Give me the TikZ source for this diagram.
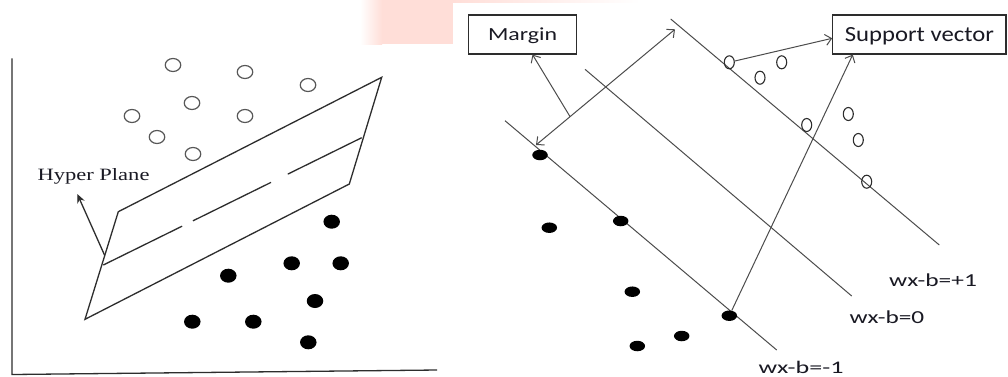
\documentclass[tikz,border=0pt]{standalone}
\usepackage{fontspec}
\usepackage{graphicx}
\setmainfont{Liberation Serif}
\newfontfamily\calib{Carlito}
\usetikzlibrary{shapes.geometric,arrows.meta,calc}
\newcommand\fittext[3]{\resizebox{#1pt}{#2pt}{#3}}
\definecolor{wmpink}{RGB}{255,222,216}
\definecolor{lnc}{RGB}{45,45,45}
\definecolor{txc}{RGB}{25,25,35}
\begin{document}
\begin{tikzpicture}[x=1pt,y=-1pt,
  lline/.style={draw=lnc,line width=1.3pt},
  rline/.style={draw=lnc!85,line width=1pt},
  lopen/.style={ellipse,draw=lnc!80,line width=1.2pt,minimum width=15.5pt,minimum height=13pt,inner sep=0pt},
  lfill/.style={ellipse,fill=black,minimum width=16.5pt,minimum height=14pt,inner sep=0pt},
  ropen/.style={ellipse,draw=lnc,line width=1.1pt,minimum width=10pt,minimum height=13pt,inner sep=0pt},
  rfill/.style={ellipse,fill=black,minimum width=15.5pt,minimum height=10.5pt,inner sep=0pt},
  lbl/.style={inner sep=0pt,anchor=base west,text=txc},
  boxst/.style={draw=lnc,line width=1.2pt,inner sep=0pt,text=txc,text depth=0pt},
  rarrow/.style={rline,-{Straight Barb[length=6pt,width=11pt]}},
  darrow/.style={rline,{Straight Barb[length=6pt,width=11pt]}-{Straight Barb[length=6pt,width=11pt]}},
  harrow/.style={lline,-{Stealth[length=9pt,width=8pt]}}]
\useasboundingbox (0,0) rectangle (1008,376);
\fill[white] (0,0) rectangle (1008,376);
% watermark remnant
\fill[wmpink] (381.7,0) rectangle (453,44.3);
\shade[left color=white,right color=wmpink] (360,0) rectangle (382,44.3);
\shade[left color=wmpink,right color=white] (453,0) rectangle (640,2.2);

% ---------- left panel ----------
\draw[lline] (12,58.3) -- (12,374.5) -- (437,370);
\coordinate (TL) at (118.3,211.7);
\coordinate (TR) at (381.7,77.3);
\coordinate (BR) at (349.3,184);
\coordinate (BL) at (85,319.3);
\draw[lline] (BL) -- (TL) -- (TR) -- (BR) -- cycle;
\coordinate (ML) at (103.3,265);
\coordinate (MR) at (361.7,137.7);
\draw[lline] (ML) -- ($(ML)!0.305!(MR)$);
\draw[lline] ($(ML)!0.347!(MR)$) -- ($(ML)!0.649!(MR)$);
\draw[lline] ($(ML)!0.714!(MR)$) -- (MR);
\coordinate (HA) at (104.5,255);
\coordinate (HT) at (77.3,194);
\draw[harrow] (HA) -- (HT);
\node[lbl,font=\rmfamily] (hp) at (37.3,180) {\fittext{112}{12}{Hyper Plane}};

\foreach \n/\x/\y in {o1/173/65,o2/245/72,o3/308/85,o4/192/103,o5/132/116,o6/245/116,o7/157/137,o8/193/154}
  \node[lopen] (\n) at (\x,\y) {};
\foreach \n/\x/\y in {f1/331.7/221.7,f2/291.7/263.3,f3/340.7/263.3,f4/228.3/275.7,f5/315/301,f6/192.3/321.7,f7/253.3/321.7,f8/308.3/342.3}
  \node[lfill] (\n) at (\x,\y) {};

% ---------- right panel ----------
\draw[rline] (505,120.7) -- (776.7,350);
\draw[rline] (585,69.3) -- (851.7,296);
\draw[rline] (670.7,19) -- (939.3,245);

\node[boxst,minimum width=108.4pt,minimum height=39pt] (mbox) at (522.5,34.5) {\calib\fittext{69}{12.7}{Margin}};
\node[boxst,minimum width=173.3pt,minimum height=39pt] (svbox) at (919.4,34.5) {\calib\fittext{149}{14}{Support vector}};

\foreach \n/\x/\y in {s1/729.3/62.3,s2/760/77.7,s3/781.7/62.3,s4/806.7/125,s5/848.3/114,s6/858.3/140,s7/866.7/181.7}
  \node[ropen] (\n) at (\x,\y) {};
\foreach \n/\x/\y in {d1/540/155,d2/549.3/227.7,d3/620.7/221,d4/632.3/291.7,d5/729.3/315.7,d6/681.7/336,d7/637.3/346}
  \node[rfill] (\n) at (\x,\y) {};

\coordinate (ma) at (536,145);
\coordinate (mb) at (675,29.3);
\draw[darrow] (ma) -- (mb);
\coordinate (mm) at ($(ma)!0.245!(mb)$);
\draw[rarrow] (mm) -- ([xshift=10pt]mbox.south);
\draw[rarrow] (s1) -- ([yshift=-3.8pt]svbox.west);
\draw[rarrow] (d5) -- ([xshift=20.6pt]svbox.south west);

\node[lbl,font=\calib] (l1) at (889,286) {\fittext{87.7}{12.7}{wx-b=+1}};
\node[lbl,font=\calib] (l0) at (849.3,323.3) {\fittext{74.7}{12.7}{wx-b=0}};
\node[lbl,font=\calib] (lm) at (758.3,373.3) {\fittext{85}{12.3}{wx-b=-1}};
\end{tikzpicture}
\end{document}
